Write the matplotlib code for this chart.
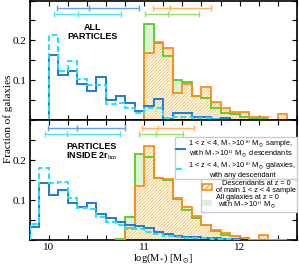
import numpy as np
import matplotlib
matplotlib.use('Agg')
import matplotlib.pyplot as plt
from matplotlib.ticker import MultipleLocator
from matplotlib.lines import Line2D
from matplotlib.patches import Patch

plt.rcParams['font.family'] = ['Liberation Serif', 'DejaVu Serif']
plt.rcParams['mathtext.fontset'] = 'stix'
plt.rcParams['hatch.linewidth'] = 0.7

# ---------------- data (fractions per 0.1 dex bin) ----------------
# top panel: all particles
top_edges_main = np.round(np.arange(10.0, 12.01, 0.1), 2)
blue_top = [0.163, 0.113, 0.123, 0.090, 0.074, 0.108, 0.050, 0.061, 0.044, 0.023,
            0.035, 0.053, 0.002, 0.017, 0.017, 0.008, 0.008, 0.002, 0.004, 0.0]
cyan_top = [0.213, 0.123, 0.149, 0.104, 0.087, 0.087, 0.040, 0.044, 0.029, 0.018,
            0.030, 0.031, 0.005, 0.008, 0.008, 0.004, 0.004, 0.002, 0.0, 0.0]
top_edges_z0 = np.round(np.arange(11.0, 12.51, 0.1), 2)
green_top = [0.241, 0.193, 0.161, 0.101, 0.096, 0.060, 0.056, 0.029, 0.018, 0.015,
             0.008, 0.005, 0.003, 0.001, 0.0]
orange_top = [0.168, 0.197, 0.180, 0.067, 0.090, 0.061, 0.082, 0.045, 0.029, 0.021,
              0.021, 0.007, 0.007, 0.0, 0.014]

# bottom panel: particles inside 2 r_hm
bot_edges_main = np.round(np.arange(9.8, 12.01, 0.1), 2)
blue_bot = [0.032, 0.143, 0.113, 0.126, 0.092, 0.082, 0.092, 0.065, 0.055, 0.046,
            0.038, 0.035, 0.030, 0.020, 0.015, 0.010, 0.008, 0.007, 0.006, 0.004,
            0.003, 0.002]
cyan_bot = [0.040, 0.181, 0.143, 0.145, 0.105, 0.080, 0.077, 0.057, 0.046, 0.038,
            0.027, 0.027, 0.020, 0.015, 0.010, 0.008, 0.006, 0.005, 0.004, 0.003,
            0.002, 0.001]
bot_edges_z0 = np.round(np.arange(10.7, 12.51, 0.1), 2)
green_bot = [0.002, 0.057, 0.215, 0.208, 0.155, 0.150, 0.102, 0.074, 0.055, 0.037,
             0.022, 0.013, 0.009, 0.004, 0.0, 0.0, 0.0, 0.0]
orange_bot = [0.0, 0.030, 0.135, 0.235, 0.155, 0.152, 0.106, 0.082, 0.059, 0.037,
              0.026, 0.018, 0.010, 0.004, 0.0, 0.013, 0.0, 0.0]

# median and percentile ranges (center, low, high)
err_top = {'blue': (10.42, 10.09, 10.95), 'cyan': (10.31, 10.06, 10.76),
           'orange': (11.27, 11.09, 11.70), 'green': (11.25, 11.01, 11.57)}
err_bot = {'blue': (10.30, 9.99, 10.80), 'cyan': (10.19, 9.96, 10.75),
           'orange': (11.15, 10.98, 11.52), 'green': (11.12, 10.95, 11.41)}
err_y = {'blue': 0.281, 'orange': 0.281, 'cyan': 0.266, 'green': 0.266}

# ---------------- style ----------------
c_blue = '#1f7ae0'
c_cyan = '#22e2f2'
c_orange = '#ff8c1a'
c_green = '#55cc22'
c_gfill = '#ddf4d2'
c_hatch = '#f0c878'
err_col = {'blue': '#5fa2ea', 'cyan': '#4ee6f4', 'orange': '#ffb266', 'green': '#94e070'}
HATCH = '/' * 10


def draw_panel(ax, e_main, blue, cyan, e_z0, green, orange, errs):
    ax.stairs(green, e_z0, fill=True, facecolor=c_gfill, edgecolor='none', zorder=1)
    ax.stairs(orange, e_z0, fill=True, facecolor='#fffcf4', edgecolor=c_hatch,
              hatch=HATCH, linewidth=0, zorder=2)
    ax.stairs(green, e_z0, color=c_green, linewidth=1.3, zorder=3)
    ax.stairs(orange, e_z0, color=c_orange, linewidth=1.3, zorder=3)
    ax.stairs(blue, e_main, color=c_blue, linewidth=1.4, zorder=4)
    ax.stairs(cyan, e_main, color=c_cyan, linewidth=1.4, linestyle=(0, (3, 1.5)), zorder=4)
    for key, (cen, lo, hi) in errs.items():
        ax.errorbar([cen], [err_y[key]], xerr=[[cen - lo], [hi - cen]], fmt='|',
                    color=err_col[key], markersize=5, capsize=2.5, elinewidth=1.0,
                    capthick=1.0, markeredgewidth=1.0, zorder=5)
    ax.set_xlim(9.8, 12.6)
    ax.set_ylim(0, 0.3)
    ax.xaxis.set_major_locator(MultipleLocator(1))
    ax.xaxis.set_minor_locator(MultipleLocator(0.2))
    ax.set_yticks([0.1, 0.2])
    ax.yaxis.set_minor_locator(MultipleLocator(0.05))
    ax.tick_params(which='both', direction='in', top=True, right=True,
                   length=3.5, width=0.8, labelsize=8, pad=2)
    for s in ax.spines.values():
        s.set_linewidth(1.2)


fig = plt.figure(figsize=(2.99, 2.65), dpi=100)
ax1 = fig.add_axes([0.099, 0.547, 0.894, 0.451])
ax2 = fig.add_axes([0.099, 0.094, 0.894, 0.453])

draw_panel(ax1, top_edges_main, blue_top, cyan_top, top_edges_z0, green_top, orange_top, err_top)
draw_panel(ax2, bot_edges_main, blue_bot, cyan_bot, bot_edges_z0, green_bot, orange_bot, err_bot)
ax1.tick_params(labelbottom=False)
ax1.set_yticklabels(['0.1', '0.2'])
ax2.set_yticklabels(['0.1', '0.2'])

sans = ['Liberation Sans', 'DejaVu Sans']
ax1.text(10.46, 0.22, 'ALL\nPARTICLES', family=sans, fontweight='bold', fontsize=6.5,
         ha='center', va='center', linespacing=1.0)
ax2.text(10.18, 0.22, 'PARTICLES\nINSIDE 2r$_{\\rm hm}$', family=sans, fontweight='bold',
         fontsize=6.5, ha='left', va='center', linespacing=1.0)

ax2.set_xlabel(r'log(M$_{*}$) [M$_{\odot}$]', fontsize=7.5, labelpad=0)
fig.text(0.028, 0.55, 'Fraction of galaxies', rotation=90, fontsize=8, ha='center', va='center')

# legends
lprop = {'family': sans, 'size': 5.3}
h1 = [Line2D([], [], color=c_blue, lw=1.4),
      Line2D([], [], color=c_cyan, lw=1.4, linestyle=(0, (3, 1.5)))]
l1 = ['1 < z < 4, M$_*$>10$^{10}$ M$_\\odot$ sample,\nwith M$_*$>10$^{11}$ M$_\\odot$ descendants',
      '1 < z < 4, M$_*$>10$^{10}$ M$_\\odot$ galaxies,\nwith any descendant']
leg1 = ax2.legend(h1, l1, loc='upper right', bbox_to_anchor=(1.0, 0.86),
                  prop=lprop, handlelength=1.2, handletextpad=0.4,
                  borderpad=0.12, labelspacing=0.1, borderaxespad=0, fancybox=False,
                  edgecolor='#cccccc', framealpha=1)
for t in leg1.get_texts():
    t.set_multialignment('center')
    t.set_linespacing(0.85)
ax2.add_artist(leg1)

# second legend sits directly under the first one
fig.canvas.draw()
bb = leg1.get_window_extent().transformed(ax2.transAxes.inverted())

h2 = [Patch(facecolor='#fffcf4', edgecolor=c_orange, hatch='/' * 6, lw=1.2),
      Patch(facecolor='#e3ecdc', edgecolor='none')]
l2 = ['Descendants at z = 0\nof main 1 < z < 4 sample',
      'All galaxies at z = 0\nwith M$_*$>10$^{11}$ M$_\\odot$']
leg2 = ax2.legend(h2, l2, loc='upper right', bbox_to_anchor=(1.0, bb.y0),
                  prop=lprop, handlelength=1.4, handleheight=0.9,
                  handletextpad=0.5, borderpad=0.12, labelspacing=0.1, borderaxespad=0,
                  fancybox=False, edgecolor='#cccccc', framealpha=1)
for t in leg2.get_texts():
    t.set_multialignment('center')
    t.set_linespacing(0.85)

fig.savefig('out.png', dpi=100)
